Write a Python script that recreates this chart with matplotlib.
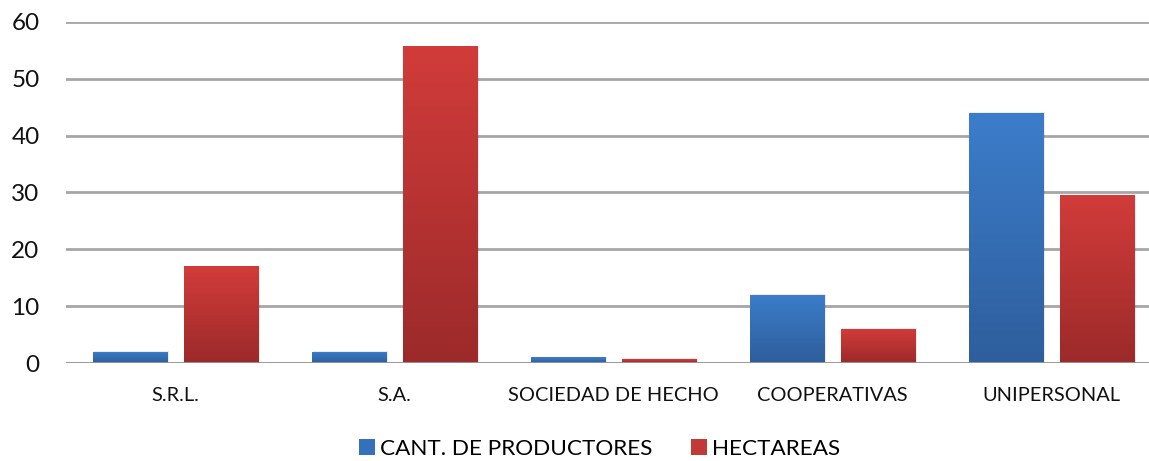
import matplotlib
matplotlib.use("Agg")
import matplotlib.pyplot as plt
import numpy as np
from matplotlib.colors import LinearSegmentedColormap
from matplotlib.patches import Rectangle

categories = ["S.R.L.", "S.A.", "SOCIEDAD DE HECHO", "COOPERATIVAS", "UNIPERSONAL"]
productores = [2, 2, 1, 12, 44]
hectareas = [17, 55.7, 0.7, 6, 29.5]
series_names = ["CANT. DE PRODUCTORES", "HECTAREAS"]
yticks = [0, 10, 20, 30, 40, 50, 60]

plt.rcParams['font.family'] = ['Lato', 'DejaVu Sans']

W, H = 1149, 461
fig = plt.figure(figsize=(W / 100, H / 100), dpi=100)
ax = fig.add_axes([66 / W, (H - 363) / H, (W - 66) / W, (363 - 22) / H])

x = np.arange(len(categories))
width = 0.338
off = 0.208

blue_cmap = LinearSegmentedColormap.from_list("b", ["#2E5E9C", "#3C7DCB"])
red_cmap = LinearSegmentedColormap.from_list("r", ["#9C2A2A", "#D13C3A"])

def grad_bars(xs, vals, cmap, solid):
    bars = ax.bar(xs, vals, width=width, color=solid, zorder=3)
    grad = np.linspace(0, 1, 256).reshape(-1, 1)
    for b in bars:
        x0, y0 = b.get_x(), b.get_y()
        w, h = b.get_width(), b.get_height()
        sh = Rectangle((x0 + 0.006, y0), w + 0.004, h + 0.1, facecolor="#000000",
                       alpha=0.08, edgecolor="none", zorder=2.5)
        ax.add_patch(sh)
        im = ax.imshow(grad, extent=[x0, x0 + w, y0, y0 + h], origin="lower",
                       aspect="auto", cmap=cmap, zorder=3.5)
        im.set_clip_path(b)
    return bars

b1 = grad_bars(x - off, productores, blue_cmap, "#3571BA")
b2 = grad_bars(x + off, hectareas, red_cmap, "#C23A38")

ax.set_xlim(-0.5, 4.5 - 12 / 219)
ax.set_ylim(0, 60)
ax.set_yticks(yticks)
ax.set_yticklabels([str(t) for t in yticks], fontsize=17.5, color="#111111")
ax.set_xticks(x)
ax.set_xticklabels(categories, fontsize=14.4, color="#111111")
ax.tick_params(axis="both", length=0)
ax.tick_params(axis="y", pad=19)
ax.tick_params(axis="x", pad=17)
ax.yaxis.grid(True, color="#A6A6A6", linewidth=2, zorder=0)
ax.set_axisbelow(True)
for s in ax.spines.values():
    s.set_visible(False)
ax.axhline(0, color="#9A9A9A", linewidth=2, zorder=4)

handles = [Rectangle((0, 0), 1, 1, facecolor="#3571BA"),
           Rectangle((0, 0), 1, 1, facecolor="#C23A38")]
fig.legend(handles, series_names, loc="lower center", bbox_to_anchor=(0.522, -0.04),
           ncol=2, frameon=False, fontsize=16.2, handlelength=0.7, handleheight=0.7,
           handletextpad=0.25, columnspacing=1.7)

fig.savefig("out.png", dpi=100, facecolor="white")
